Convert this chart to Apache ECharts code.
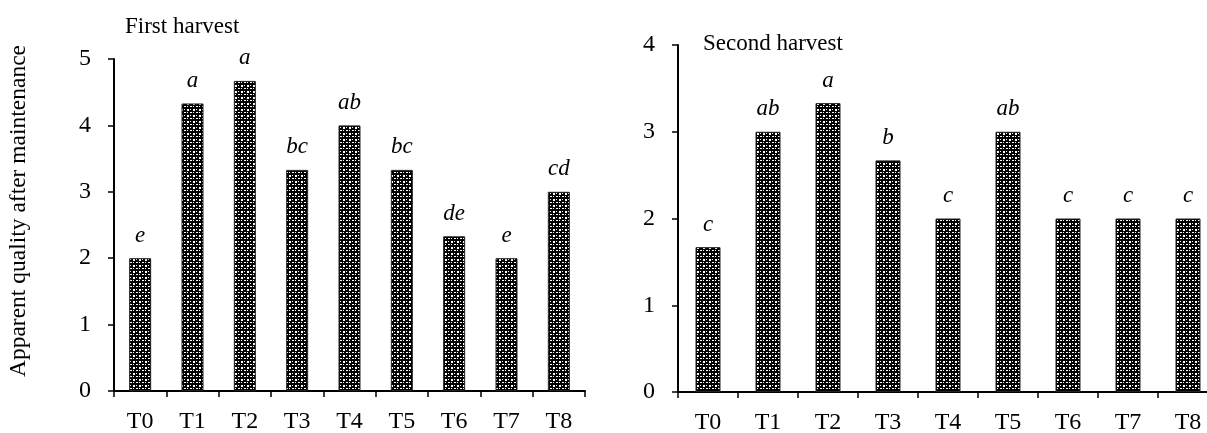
<!DOCTYPE html>
<html>
<head>
<meta charset="utf-8">
<script src="https://cdn.jsdelivr.net/npm/echarts@6/dist/echarts.min.js"></script>
<style>
  html, body { margin: 0; padding: 0; background: #fff; }
  #chart { width: 1207px; height: 433px; }
</style>
</head>
<body>
<div id="chart"></div>
<script>
const categories = ['T0', 'T1', 'T2', 'T3', 'T4', 'T5', 'T6', 'T7', 'T8'];
const firstHarvest = [2, 4.33, 4.67, 3.33, 4, 3.33, 2.33, 2, 3];
const firstLetters = ['e', 'a', 'a', 'bc', 'ab', 'bc', 'de', 'e', 'cd'];
const secondHarvest = [1.67, 3, 3.33, 2.67, 2, 3, 2, 2, 2];
const secondLetters = ['c', 'ab', 'a', 'b', 'c', 'ab', 'c', 'c', 'c'];

const FONT = '"Liberation Serif", "Times New Roman", serif';

// petit motif damier pour le remplissage des barres
function makePattern() {
    const c = document.createElement('canvas');
    c.width = 6;
    c.height = 6;
    const ctx = c.getContext('2d');
    ctx.fillStyle = '#000';
    ctx.fillRect(0, 0, 6, 6);
    ctx.fillStyle = '#fff';
    ctx.fillRect(1, 1, 2, 2);
    ctx.fillRect(4, 4, 2, 1);
    ctx.fillRect(4, 1, 1, 1);
    ctx.fillRect(1, 4, 1, 1);
    return c;
}
const pattern = { image: makePattern(), repeat: 'repeat' };

function xAxisFor(gridIndex) {
    return {
        type: 'category',
        gridIndex: gridIndex,
        data: categories,
        axisLine: { lineStyle: { color: '#000', width: 2 } },
        axisTick: { show: true, length: 6, lineStyle: { color: '#000', width: 1.5 } },
        axisLabel: { color: '#000', fontFamily: FONT, fontSize: 24, margin: 19 }
    };
}

function yAxisFor(gridIndex, max) {
    return {
        type: 'value',
        gridIndex: gridIndex,
        min: 0,
        max: max,
        interval: 1,
        splitLine: { show: false },
        axisLine: { show: true, lineStyle: { color: '#000', width: 2 } },
        axisTick: { show: true, length: 6, lineStyle: { color: '#000', width: 1.5 } },
        axisLabel: { color: '#000', fontFamily: FONT, fontSize: 24, margin: 23 }
    };
}

function barSeries(idx, values, letters, barWidth) {
    return {
        type: 'bar',
        xAxisIndex: idx,
        yAxisIndex: idx,
        barWidth: barWidth,
        data: values,
        itemStyle: { color: pattern, borderColor: '#222', borderWidth: 1 },
        label: {
            show: true,
            position: 'top',
            distance: 11,
            formatter: p => letters[p.dataIndex],
            color: '#000',
            fontFamily: FONT,
            fontStyle: 'italic',
            fontSize: 23
        },
        silent: true
    };
}

const chart = echarts.init(document.getElementById('chart'));
chart.setOption({
    animation: false,
    grid: [
        { left: 114, top: 59, width: 471, bottom: 42, outerBoundsMode: 'none' },
        { left: 678, top: 45, width: 540, bottom: 41, outerBoundsMode: 'none' }
    ],
    xAxis: [xAxisFor(0), xAxisFor(1)],
    yAxis: [yAxisFor(0, 5), yAxisFor(1, 4)],
    series: [
        barSeries(0, firstHarvest, firstLetters, 22),
        barSeries(1, secondHarvest, secondLetters, 25)
    ],
    graphic: [
        {
            type: 'text', x: 125, y: 27,
            style: { text: 'First harvest', fill: '#000', font: '23px ' + FONT, verticalAlign: 'middle' }
        },
        {
            type: 'text', x: 703, y: 44,
            style: { text: 'Second harvest', fill: '#000', font: '23px ' + FONT, verticalAlign: 'middle' }
        },
        {
            type: 'text', x: 19, y: 211, rotation: Math.PI / 2,
            style: {
                text: 'Apparent quality after maintenance', fill: '#000',
                font: '23.5px ' + FONT, align: 'center', verticalAlign: 'middle'
            }
        }
    ]
});
</script>
</body>
</html>
